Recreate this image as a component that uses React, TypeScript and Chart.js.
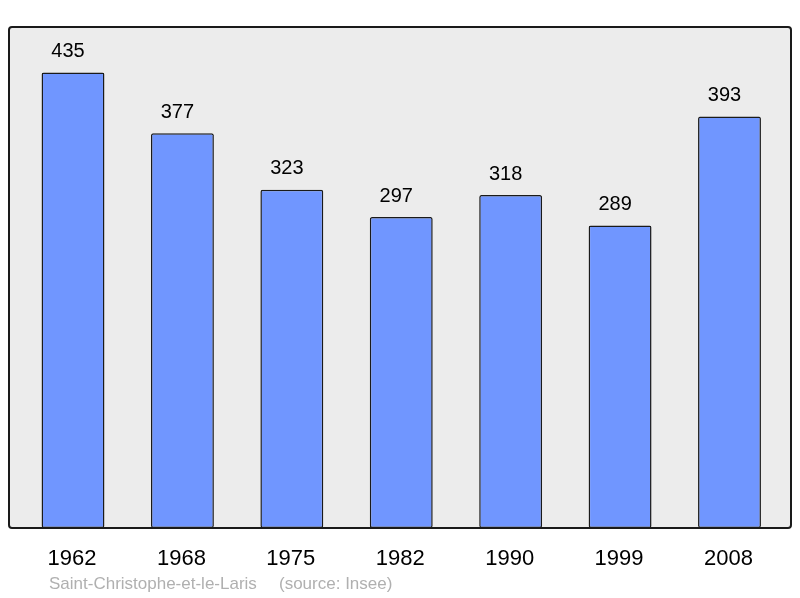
import React, { useEffect, useRef } from "react";
import { Chart, registerables } from "chart.js";

Chart.register(...registerables);

const years = ["1962", "1968", "1975", "1982", "1990", "1999", "2008"];
const population = [435, 377, 323, 297, 318, 289, 393];
const yMax = 478.5;
const placeName = "Saint-Christophe-et-le-Laris";
const sourceName = "(source: Insee)";

const FONT = '"Liberation Sans", Arial, sans-serif';

const framePlugin = {
  id: "frame",
  beforeDatasetsDraw(chart: any) {
    const { ctx, chartArea } = chart;
    ctx.save();
    ctx.beginPath();
    ctx.roundRect(9, chartArea.top, 782, chartArea.bottom - chartArea.top, 3);
    ctx.fillStyle = "#ececec";
    ctx.fill();
    ctx.restore();
  },
  afterDatasetsDraw(chart: any) {
    const { ctx, chartArea } = chart;
    ctx.save();
    ctx.beginPath();
    ctx.roundRect(9, chartArea.top, 782, chartArea.bottom - chartArea.top, 3);
    ctx.lineWidth = 2;
    ctx.strokeStyle = "#1a1a1a";
    ctx.stroke();
    ctx.restore();
  },
  afterDraw(chart: any) {
    const { ctx, chartArea } = chart;
    const meta = chart.getDatasetMeta(0);
    const xScale = chart.scales.x;
    ctx.save();
    ctx.fillStyle = "#000";
    ctx.textAlign = "center";
    ctx.textBaseline = "alphabetic";
    ctx.font = `20px ${FONT}`;
    meta.data.forEach((bar: any, i: number) => {
      ctx.fillText(String(population[i]), bar.x - 5, bar.y - 15.5);
    });
    ctx.font = `22px ${FONT}`;
    years.forEach((y, i) => {
      ctx.fillText(y, xScale.getPixelForValue(i) - 1, chartArea.bottom + 37);
    });
    ctx.textAlign = "left";
    ctx.fillStyle = "#b0b0b0";
    ctx.font = `17px ${FONT}`;
    ctx.fillText(placeName, 49, chartArea.bottom + 61);
    ctx.fillText(sourceName, 279, chartArea.bottom + 61);
    ctx.restore();
  },
};

export default function App() {
  const ref = useRef<HTMLCanvasElement | null>(null);
  useEffect(() => {
    document.body.style.margin = "0";
    const canvas = ref.current;
    if (!canvas) return;
    const chart = new Chart(canvas, {
      type: "bar",
      data: {
        labels: years,
        datasets: [
          {
            data: population,
            backgroundColor: "#7096ff",
            borderColor: "#1a1a1a",
            borderWidth: 1.5,
            borderRadius: 2,
            borderSkipped: false,
            barPercentage: 0.575,
            categoryPercentage: 1,
          },
        ],
      },
      options: {
        responsive: false,
        animation: false,
        layout: { padding: { left: 18.3, right: 15.8, top: 27, bottom: 70 } },
        plugins: { legend: { display: false }, tooltip: { enabled: false } },
        scales: {
          x: { display: false },
          y: { display: false, min: 0, max: yMax },
        },
      },
      plugins: [framePlugin],
    });
    return () => chart.destroy();
  }, []);
  return (
    <div style={{ position: "absolute", left: 0, top: 0, width: 800, height: 598 }}>
      <canvas ref={ref} width={800} height={598} style={{ display: "block" }} />
    </div>
  );
}
